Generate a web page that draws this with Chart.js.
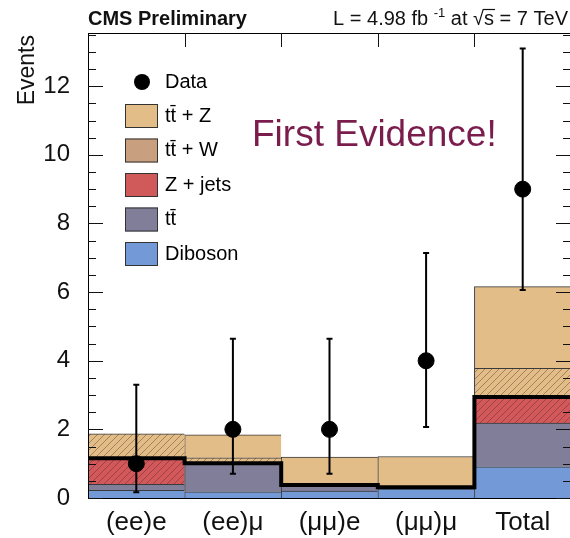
<!DOCTYPE html>
<html>
<head>
<meta charset="utf-8">
<script src="https://cdn.jsdelivr.net/npm/chart.js@4/dist/chart.umd.min.js"></script>
<style>
  html, body { margin: 0; padding: 0; background: #fff; overflow: hidden; }
  #wrap { width: 570px; height: 538px; overflow: hidden; }
  canvas { display: block; }
</style>
</head>
<body>
<div id="wrap"><canvas id="c" width="580" height="538"></canvas></div>
<script>
// ---- data ----
const categories = ['(ee)e', '(ee)\u03bc', '(\u03bc\u03bc)e', '(\u03bc\u03bc)\u03bc', 'Total'];
const diboson = [0.22, 0.18, 0.20, 0.27, 0.91];
const ttbar   = [0.18, 0.83, 0.18, 0.04, 1.27];
const zjets   = [0.76, 0.00, 0.00, 0.00, 0.76];
const ttw     = [0.71, 0.16, 0.00, 0.00, 0.84];
const ttz     = [0.00, 0.67, 0.81, 0.90, 2.38];
const observed = [1, 2, 2, 4, 9];
const errLow   = [0.17, 0.71, 0.71, 2.07, 6.06];
const errHigh  = [3.30, 4.64, 4.64, 7.14, 13.10];
const yTicks = [0, 2, 4, 6, 8, 10, 12];
const yMax = 13.55;
const legendLabels = ['tt\u0304 + Z', 'tt\u0304 + W', 'Z + jets', 'tt\u0304', 'Diboson'];

const FONT = "'Liberation Sans', Arial, sans-serif";
const C_TTZ = '#e2bd88', C_TTW_LEG = '#c9a07f', C_ZJ = '#d3585c', C_ZJ_LEG = '#d05a5a', C_TT = '#807e99', C_DB = '#7399d6';

function hatch(base) {
  const s = 7;
  const pc = document.createElement('canvas');
  pc.width = s; pc.height = s;
  const g = pc.getContext('2d');
  g.fillStyle = base; g.fillRect(0, 0, s, s);
  g.strokeStyle = 'rgba(70,40,30,0.45)'; g.lineWidth = 0.9;
  g.beginPath();
  g.moveTo(-1, s + 1); g.lineTo(s + 1, -1);
  g.moveTo(-1, 1); g.lineTo(1, -1);
  g.moveTo(s - 1, s + 1); g.lineTo(s + 1, s - 1);
  g.stroke();
  return g.createPattern(pc, 'repeat');
}

const centers = categories.map((_, i) => i + 0.5);
const toXY = arr => arr.map((v, i) => ({ x: centers[i], y: v }));
const bgSum = categories.map((_, i) => diboson[i] + ttbar[i] + zjets[i]);
const stepLine = bgSum.map((v, i) => ({ x: i, y: v })).concat([{ x: categories.length, y: bgSum[bgSum.length - 1] }]);

const barCommon = {
  type: 'bar', stack: 'mc', borderColor: '#3a3a3a',
  borderWidth: { top: 1, left: 1, right: 0, bottom: 0 }, borderSkipped: false,
  categoryPercentage: 1.0, barPercentage: 1.0
};

const decor = {
  id: 'decor',
  afterDatasetsDraw(chart) {
    const { ctx, chartArea: a, scales: { x, y } } = chart;
    ctx.save();
    // error bars
    ctx.strokeStyle = '#000'; ctx.lineWidth = 2;
    observed.forEach((v, i) => {
      const px = x.getPixelForValue(centers[i]);
      const lo = y.getPixelForValue(errLow[i]);
      const hi = y.getPixelForValue(errHigh[i]);
      ctx.beginPath();
      ctx.moveTo(px, lo); ctx.lineTo(px, hi);
      ctx.moveTo(px - 3, lo); ctx.lineTo(px + 3, lo);
      ctx.moveTo(px - 3, hi); ctx.lineTo(px + 3, hi);
      ctx.stroke();
    });
    // frame
    ctx.lineWidth = 1; ctx.strokeStyle = '#000';
    ctx.strokeRect(a.left + 0.5, a.top + 0.5, a.right - a.left - 1, a.bottom - a.top);
    // y ticks (inward, both sides)
    ctx.strokeStyle = '#111';
    for (let k = 0; k * 0.5 <= yMax; k++) {
      const v = k * 0.5;
      const py = Math.round(y.getPixelForValue(v)) + 0.5;
      const len = (k % 4 === 0) ? 15 : 8;
      ctx.beginPath();
      ctx.moveTo(a.left, py); ctx.lineTo(a.left + len, py);
      ctx.moveTo(a.right, py); ctx.lineTo(a.right - len, py);
      ctx.stroke();
    }
    // x ticks at bin edges (top)
    for (let e = 1; e < categories.length; e++) {
      const px = Math.round(x.getPixelForValue(e)) + 0.5;
      ctx.beginPath();
      ctx.moveTo(px, a.top); ctx.lineTo(px, a.top + 14);
      ctx.stroke();
    }
    ctx.restore();
  },
  afterDraw(chart) {
    const { ctx } = chart;
    ctx.save();
    // legend
    ctx.font = '20px ' + FONT; ctx.textBaseline = 'middle'; ctx.textAlign = 'left';
    ctx.fillStyle = '#000';
    ctx.beginPath(); ctx.arc(142, 82, 8, 0, Math.PI * 2); ctx.fill();
    ctx.fillText('Data', 165, 82);
    const legCols = [C_TTZ, C_TTW_LEG, C_ZJ_LEG, C_TT, C_DB];
    legendLabels.forEach((lab, i) => {
      const cy = 116 + i * 34.5;
      ctx.fillStyle = legCols[i];
      ctx.fillRect(125, cy - 12, 33, 24);
      ctx.strokeStyle = '#333'; ctx.lineWidth = 1;
      ctx.strokeRect(125.5, cy - 11.5, 32, 23);
      ctx.fillStyle = '#000';
      ctx.fillText(lab, 165, cy);
    });
    // First Evidence
    ctx.font = '37px ' + FONT; ctx.fillStyle = '#7a1c4c'; ctx.textBaseline = 'alphabetic';
    ctx.fillText('First Evidence!', 252, 146);
    // titles
    ctx.fillStyle = '#111';
    ctx.font = 'bold 20px ' + FONT;
    ctx.fillText('CMS Preliminary', 88, 25);
    // right title pieces
    const base = '20px ' + FONT, sup = '13px ' + FONT;
    const parts = [
      { t: 'L = 4.98 fb ', f: base, dy: 0 },
      { t: '-1', f: sup, dy: -8 },
      { t: ' at ', f: base, dy: 0 },
      { t: '\u221a', f: base, dy: 0 },
      { t: 's', f: base, dy: 0, over: true },
      { t: ' = 7 TeV', f: base, dy: 0 }
    ];
    let total = 0;
    parts.forEach(p => { ctx.font = p.f; p.w = ctx.measureText(p.t).width; total += p.w; });
    let xx = 568 - total;
    parts.forEach(p => {
      ctx.font = p.f;
      ctx.fillText(p.t, xx, 25 + p.dy);
      if (p.over) {
        ctx.strokeStyle = '#111'; ctx.lineWidth = 1.2;
        ctx.beginPath(); ctx.moveTo(xx - 1, 9.5); ctx.lineTo(xx + p.w + 1, 9.5); ctx.stroke();
      }
      xx += p.w;
    });
    // y title
    ctx.translate(28, 35); ctx.rotate(-Math.PI / 2);
    ctx.font = '23px ' + FONT; ctx.textAlign = 'right'; ctx.textBaseline = 'middle';
    ctx.fillStyle = '#111';
    ctx.fillText('Events', 0, 0);
    ctx.restore();
  }
};

new Chart(document.getElementById('c'), {
  data: {
    datasets: [
      { type: 'scatter', label: 'Data', stack: 'data', data: toXY(observed),
        pointRadius: 8, pointHoverRadius: 8, pointBackgroundColor: '#000', pointBorderColor: '#000', showLine: false },
      { type: 'line', label: 'bkg', stack: 'outline', data: stepLine, stepped: 'before',
        borderColor: '#000', borderWidth: 4, pointRadius: 0, fill: false },
      Object.assign({}, barCommon, { label: 'Diboson', data: toXY(diboson), backgroundColor: C_DB }),
      Object.assign({}, barCommon, { label: 'tt', data: toXY(ttbar), backgroundColor: C_TT }),
      Object.assign({}, barCommon, { label: 'Z + jets', data: toXY(zjets), backgroundColor: hatch(C_ZJ) }),
      Object.assign({}, barCommon, { label: 'ttW', data: toXY(ttw), backgroundColor: hatch(C_TTZ) }),
      Object.assign({}, barCommon, { label: 'ttZ', data: toXY(ttz), backgroundColor: C_TTZ })
    ]
  },
  options: {
    responsive: false, animation: false, devicePixelRatio: 1,
    layout: { padding: { top: 33, right: 7, left: 0, bottom: 0 } },
    plugins: { legend: { display: false }, tooltip: { enabled: false } },
    scales: {
      x: {
        type: 'linear', min: 0, max: categories.length, offset: false,
        grid: { display: false }, border: { display: false },
        afterBuildTicks: s => { s.ticks = centers.map(v => ({ value: v })); },
        afterFit: s => { s.height = 40; },
        ticks: { autoSkip: false, maxRotation: 0, padding: 1, color: '#111',
          font: { family: FONT, size: 26 },
          callback: (v) => categories[Math.round(v - 0.5)] }
      },
      y: {
        type: 'linear', min: 0, max: yMax, stacked: true,
        grid: { display: false, drawTicks: false }, border: { display: false },
        afterBuildTicks: s => { s.ticks = yTicks.map(v => ({ value: v })); },
        afterFit: s => { s.width = 88; },
        ticks: { padding: 18, color: '#111', font: { family: FONT, size: 24 } }
      }
    }
  },
  plugins: [decor]
});
</script>
</body>
</html>
